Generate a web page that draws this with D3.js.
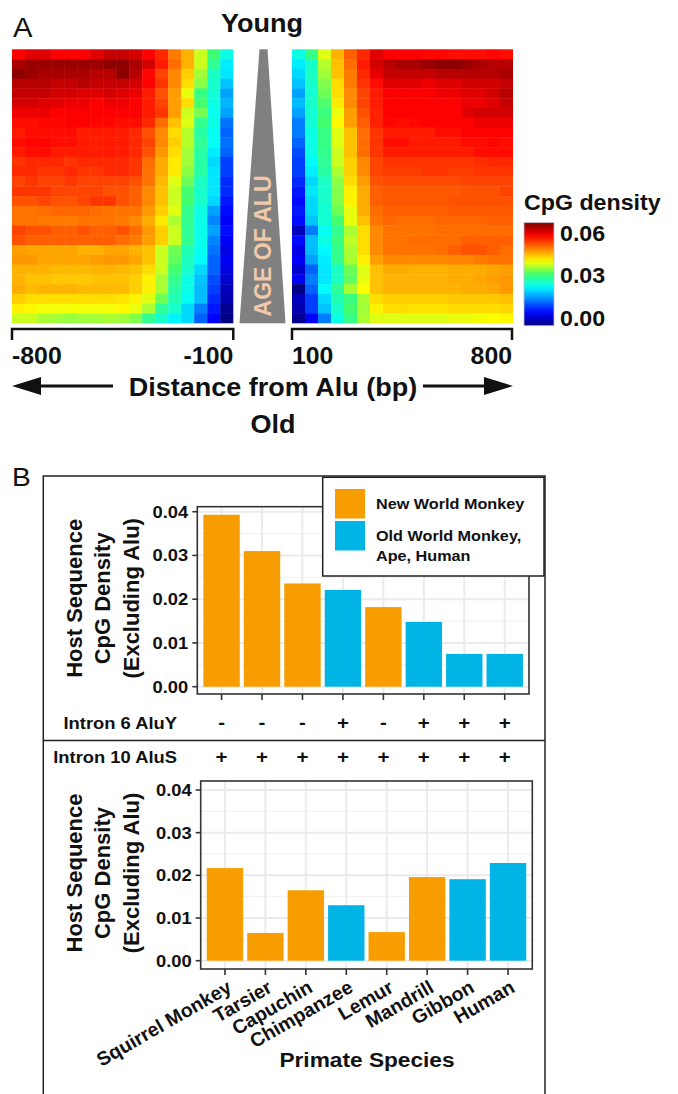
<!DOCTYPE html>
<html>
<head>
<meta charset="utf-8">
<script src="https://cdn.jsdelivr.net/npm/d3@7"></script>
<style>
  body { margin: 0; background: #fff; }
  svg { display: block; font-family: "Liberation Sans", Arial, Helvetica, sans-serif; }
</style>
</head>
<body>
<svg id="fig" width="678" height="1094"></svg>
<script>
// ---- Panel A: CpG density (x 1000), rows young (top) -> old (bottom) ----
// left block: columns from -800 bp to -100 bp
const leftDensity = [
  [58,60,60,58,58,58,60,62,62,61,58,55,49,45,37,30,23],
  [64,65,65,65,65,65,65,66,66,64,61,56,50,45,37,28,20],
  [66,65,64,64,64,64,63,63,66,63,57.5,53,48,43,35,25,19.5],
  [63,63,63,62,62,63,62,62,62,61,58,54,48,42,34,24.6,17],
  [62,62,62,61,61,60,60,61,60,59,56,52,46.5,38.5,29,24,14.6],
  [61,61,60,60,59,59,58,59,59,58,56,53,46.5,42,30.5,23,16],
  [59,59,59,58,58,58,58,58,58,58,56,54,46.5,37,33,22.5,14.6],
  [57,57,57.5,57.5,58,58,57.5,57.5,57,57,55,50,44,38,28.5,23,11.3],
  [56,57,57,57,57,56,56,56,56,55,52,48,42,36,27,22,10],
  [57,57.5,57.5,57,57,56,56,56,56,55,53,48,43,36,28,22,11],
  [56,57,57,56,56,56,56,56,56,55,52,47,42,35,27,20,10],
  [54,55,55,55,54,55,55,55,55,54,50,45.5,41,35,27,18.5,7.5],
  [55,55,54,54,55,54,54,55,55,54,49.5,45.5,41,34,27,19.5,7.5],
  [53,54,53,53,54,53,53,53,53,52,49.5,44.5,38,32.5,25,19.5,6],
  [54,54,54,53,53,53,53,52,52,51,48,44,37,30.5,24.5,19.5,6],
  [52,52,53,52,52,53,54,54,52,51,48,44,37,30.5,24.5,18.5,4.5],
  [49.5,49.5,50,50.5,50.5,50.5,50,49.5,49.5,49.5,47,43,38,28.5,23,14.6,3.7],
  [49.5,49.5,49,49,49,49.5,49.5,49.5,49,48,45.5,41,35.5,28.5,22.5,12.5,2.2],
  [53,52,52,51,51,52,51,51,52,50,47,43,37,28,22.5,14.5,3.7],
  [52,51,51,51,51,51,51,51,50,49,46.5,43,37,28.5,22.5,12.5,2.2],
  [46.5,46,46,46,46,45,45,46,46,45,44,37,32.5,26,22,11.3,1],
  [47,47,46,46,46,46,46.5,47,47,46,44,37,32,25.3,21,10,2.2],
  [45,45,45,44.5,44.5,44.5,45,45,44.5,44,42,37,30.5,24.6,18.5,10,1],
  [45,44,44,43.5,43.5,43.5,44,44,44,43,40.5,35.3,28.5,22.8,17,8.4,-0.5],
  [45.5,44.5,45,45,45,44.5,44.5,44.5,44.5,43,40.5,35.5,27,22.8,16.5,7.5,-2],
  [43,42,42,42,42,42,42,42,41.5,40.5,38,32.5,26,22,16.5,6,-2.7],
  [40.5,40,39,39,39,39,39,39,40,38.5,35.5,28,24.6,18.5,12,4.5,-4.9],
  [37,37,35.5,35,34.5,35,35,35.5,35,33.5,28.3,24.6,20.5,18.5,9.8,2.8,-6]
];
// right block: columns from 100 bp to 800 bp
const rightDensity = [
  [23,29,38,45,51,55,60,58,58,58,57.5,57.5,57,57,57,57.5,57],
  [20,24.6,36,44,50,56,61,63,64,64,65,66,66,65,64,63,63],
  [18.5,25,35,44,49,55,59.5,62,62,62,62,63,63,63,63,63,64],
  [17,24.6,33.5,42,49,54,57,60,60,60,59,60,60,61,61,61,62],
  [14.6,24,32.5,42,48,53,56,58,58,58,58,59,59,60,60,61,63],
  [16.5,24.6,31,41,48,53,56,58,58,58,58,58,58,59,59,60,62],
  [14.6,24,29.5,38.5,46.5,52,55.5,58,58,58,58,58,58,60,61,61,61],
  [12,24,30.5,40,46.5,51,55.5,57.5,57,57.5,58,58,58,58,59,59,59],
  [12,23,29,38,44,50,54,56,56,56,56,57,57,58,58,58,58],
  [10,23,29,38,44,50,54,57,57,56,56,56,56,57,57,57.5,57],
  [8.5,23,28.5,37,44,50,54,56,56,56,56,56,56,56,57,57,57],
  [7.5,21,28,37,43,48,53,54,54,54,54,54,54,54,54.5,55,55],
  [7.5,20,27,35.5,43,48,53,53.5,53.5,53.5,54,54,53.5,53.5,54,54,54],
  [6,18.5,25,34,42,46.5,52,52.5,52.5,52.5,52.5,52.5,52.5,53,53,53,53],
  [4.6,19.5,24.6,33.5,40.5,45.5,51,51.5,51.5,51.5,51.5,51.5,51.5,52,52,52,53],
  [3.7,18.5,24.6,33.5,40.5,45.5,51,51.5,51.5,51.5,51.5,51.5,52,52,52,52,52],
  [4.6,18.5,24,32.5,38.5,45.5,50,51,51,51,51,51,51.5,51.5,51.5,51.5,51.5],
  [3.7,17,24,30.5,38.5,44,49.5,50.5,50,50,50,50.5,50.5,50.5,50.5,51,51],
  [-2,12,22,28.5,35.5,42,48,49.5,49.5,49.5,49.5,50,50,50,50,50,50],
  [3.7,16.5,23,29.5,36.5,42,48,49.5,49.5,50,50,50,50,51,51,51,51],
  [1,16.5,21,28.5,35.5,42,48,49.5,49.5,49.5,49.5,50,51,52,52,51,50],
  [2.5,14.6,20,28.5,35.5,40.5,46.5,48,48,48,48,48,48.5,48.5,49,49.5,49.5],
  [-0.5,10,19.5,25,32.5,38,44,45.5,45.5,45,45,45,45.5,45.5,45.5,46,46.5],
  [2,12,19.5,25,32,38.5,44,45,45,45,45,45,45.5,45.5,46,46.5,47],
  [-6,10,21,28,35.5,39.5,44,45,45,45,45,45,45,45.5,45.5,46,47],
  [-2,7.5,18.5,26,29.5,35.5,42,43,43,43,43,43,43.5,43.5,43.5,43.5,44],
  [-2.7,7.5,17,24.6,30.5,35,40.5,42,42,41.5,41.5,41.5,42,42,42,42,42.5],
  [-5,2.8,12,23,29,35.5,38,38,38,38,38,38,38.5,38.5,39,39.5,40]
];
const leftTicks = [-800, -100];
const rightTicks = [100, 800];
const densityTicks = [0, 0.03, 0.06];

// ---- Panel B ----
const groupNames = ["New World Monkey", "Old World Monkey,|Ape, Human"];
const groupColours = ["#F89D00", "#00B4E6"];
const intron6Values = [0.0393, 0.0310, 0.0236, 0.0221, 0.0182, 0.0148, 0.0075, 0.0075];
const intron6Groups = [0, 0, 0, 1, 0, 1, 1, 1];
const intron6AluY = ["-", "-", "-", "+", "-", "+", "+", "+"];
const intron10AluS = ["+", "+", "+", "+", "+", "+", "+", "+"];
const species = ["Squirrel Monkey", "Tarsier", "Capuchin", "Chimpanzee", "Lemur", "Mandrill", "Gibbon", "Human"];
const intron10Values = [0.0217, 0.0065, 0.0165, 0.0130, 0.0067, 0.0196, 0.0191, 0.0229];
const intron10Groups = [0, 0, 0, 1, 0, 0, 1, 1];
const barTicks = [0, 0.01, 0.02, 0.03, 0.04];
const barMinor = [0.005, 0.015, 0.025, 0.035];

const svg = d3.select("#fig");
const INK = "#111";
const SX = 1.08; // the figure's lettering is a bit wider than Liberation Sans

function label(parent, x, y, str, o = {}) {
  const tr = `translate(${x},${y})` + (o.rotate != null ? ` rotate(${o.rotate})` : ` scale(${SX},1)`);
  return parent.append("text")
    .attr("transform", tr)
    .attr("text-anchor", o.anchor || "start")
    .attr("font-size", o.size || 16)
    .attr("font-weight", o.weight || "bold")
    .attr("fill", o.fill || INK)
    .text(str);
}

// Jet-like colour ramp over the colour-bar limits.
const jet = ["#00007F", "#0000FF", "#007FFF", "#00FFFF", "#40FF70", "#FFFF00", "#FF7F00", "#FF0000", "#7F0000"];
const cLo = -0.0062, cHi = 0.067;
const colour = d3.scaleLinear()
  .domain(jet.map((c, i) => cLo + (cHi - cLo) * i / (jet.length - 1)))
  .range(jet)
  .clamp(true);

// ---------------- Panel A ----------------
label(svg, 13, 37, "A", { size: 27, weight: "normal" });
label(svg, 262, 32, "Young", { size: 25, anchor: "middle" });

const rowY = d3.scaleBand().domain(d3.range(leftDensity.length)).range([49.3, 323.3]);

function heat(matrix, x0, x1) {
  const colX = d3.scaleBand().domain(d3.range(matrix[0].length)).range([x0, x1]);
  const g = svg.append("g");
  matrix.forEach((row, r) => {
    g.selectAll(null).data(row).join("rect")
      .attr("x", (d, c) => colX(c))
      .attr("y", rowY(r))
      .attr("width", (d, c) => colX.bandwidth() + (c < row.length - 1 ? 0.4 : 0))
      .attr("height", rowY.bandwidth() + (r < matrix.length - 1 ? 0.4 : 0))
      .attr("fill", d => colour(d / 1000));
  });
}
heat(leftDensity, 12, 233.3);
heat(rightDensity, 292, 513);

// Age wedge between the two blocks
svg.append("path")
  .attr("d", "M259.5,49.3 L267.5,49.3 L285.5,323.3 L239.5,323.3 Z")
  .attr("fill", "#808080");
label(svg, 271, 246, "AGE OF ALU", { size: 23, rotate: -90, anchor: "middle", fill: "#F0C9AA" });

// Distance brackets and labels
const leftDist = d3.scaleLinear().domain([-800, -100]).range([12, 233.3]);
const rightDist = d3.scaleLinear().domain([100, 800]).range([292, 512]);
function bracket(scale, ticks) {
  const [a, b] = scale.range();
  svg.append("path")
    .attr("d", `M${a},340 V329 H${b} V340`)
    .attr("fill", "none").attr("stroke", INK).attr("stroke-width", 2.5);
  ticks.forEach((t, i) => {
    label(svg, scale(t), 363.5, String(t), { size: 23, anchor: i === 0 ? "start" : "end" });
  });
}
bracket(leftDist, leftTicks);
bracket(rightDist, rightTicks);

// Arrows and axis title
const arrowY = 386;
svg.append("line").attr("x1", 38).attr("x2", 113).attr("y1", arrowY).attr("y2", arrowY)
  .attr("stroke", INK).attr("stroke-width", 3);
svg.append("path").attr("d", `M12,${arrowY} L41,${arrowY - 9} L41,${arrowY + 9} Z`).attr("fill", INK);
svg.append("line").attr("x1", 423).attr("x2", 488).attr("y1", arrowY).attr("y2", arrowY)
  .attr("stroke", INK).attr("stroke-width", 3);
svg.append("path").attr("d", `M513,${arrowY} L484,${arrowY - 9} L484,${arrowY + 9} Z`).attr("fill", INK);
label(svg, 273, 396, "Distance from Alu (bp)", { size: 25, anchor: "middle" });
label(svg, 273, 433, "Old", { size: 25, anchor: "middle" });

// Colour bar legend
label(svg, 524, 210, "CpG density", { size: 21.5 });
const barScale = d3.scaleLinear().domain([0, 0.06]).range([317, 232.5]);
const grad = svg.append("defs").append("linearGradient")
  .attr("id", "cbar").attr("x1", 0).attr("y1", 1).attr("x2", 0).attr("y2", 0);
grad.selectAll("stop").data(d3.range(0, 1.0001, 0.05)).join("stop")
  .attr("offset", d => d)
  .attr("stop-color", d => colour(cLo + d * (cHi - cLo)));
svg.append("rect")
  .attr("x", 524).attr("width", 30)
  .attr("y", barScale(cHi)).attr("height", barScale(cLo) - barScale(cHi))
  .attr("fill", "url(#cbar)").attr("stroke", "#c8bcc8").attr("stroke-width", 0.8);
densityTicks.forEach(t => {
  label(svg, 560, barScale(t) + 8.5, t.toFixed(2), { size: 21.5 });
});

// ---------------- Panel B ----------------
label(svg, 12, 486, "B", { size: 26, weight: "normal" });
svg.append("rect").attr("x", 43.3).attr("y", 476).attr("width", 501.7).attr("height", 640)
  .attr("fill", "none").attr("stroke", "#222").attr("stroke-width", 1.5);
svg.append("line").attr("x1", 43.3).attr("x2", 545).attr("y1", 740.5).attr("y2", 740.5)
  .attr("stroke", "#222").attr("stroke-width", 1.5);

function barPanel(values, groups, box) {
  const x = d3.scalePoint().domain(d3.range(values.length)).range([box.left, box.right]).padding(0.6);
  const y = d3.scaleLinear().domain([0, 0.04]).range([box.y0, box.y4]);
  const bw = x.step() * 0.9;
  const g = svg.append("g");
  g.selectAll(".minor").data(barMinor).join("line")
    .attr("x1", box.left).attr("x2", box.right)
    .attr("y1", d => y(d)).attr("y2", d => y(d))
    .attr("stroke", "#F0F0F0").attr("stroke-width", 1);
  g.selectAll(".major").data(barTicks).join("line")
    .attr("x1", box.left).attr("x2", box.right)
    .attr("y1", d => y(d)).attr("y2", d => y(d))
    .attr("stroke", "#EBEBEB").attr("stroke-width", 2);
  g.selectAll(".vmajor").data(x.domain()).join("line")
    .attr("x1", d => x(d)).attr("x2", d => x(d))
    .attr("y1", box.top).attr("y2", box.bottom)
    .attr("stroke", "#EBEBEB").attr("stroke-width", 2);
  g.selectAll(".bar").data(values).join("rect")
    .attr("x", (d, i) => x(i) - bw / 2)
    .attr("width", bw)
    .attr("y", d => y(d))
    .attr("height", d => y(0) - y(d))
    .attr("fill", (d, i) => groupColours[groups[i]]);
  g.append("rect")
    .attr("x", box.left).attr("y", box.top)
    .attr("width", box.right - box.left).attr("height", box.bottom - box.top)
    .attr("fill", "none").attr("stroke", "#333").attr("stroke-width", 1.6);
  // y axis
  barTicks.forEach(t => {
    g.append("line").attr("x1", box.left - 5).attr("x2", box.left)
      .attr("y1", y(t)).attr("y2", y(t)).attr("stroke", "#333").attr("stroke-width", 1.6);
    label(g, box.left - 9, y(t) + 6, t.toFixed(2), { size: 17, anchor: "end" });
  });
  // x ticks
  x.domain().forEach(i => {
    g.append("line").attr("x1", x(i)).attr("x2", x(i))
      .attr("y1", box.bottom).attr("y2", box.bottom + 6)
      .attr("stroke", "#333").attr("stroke-width", 1.6);
  });
  // y title
  const mid = (box.top + box.bottom) / 2 - 2;
  ["Host Sequence", "CpG Density", "(Excluding Alu)"].forEach((s, k) => {
    label(g, 81.5 + k * 28.7, mid, s, { size: 22, rotate: -90, anchor: "middle" });
  });
  return x;
}

const topX = barPanel(intron6Values, intron6Groups,
  { left: 197.3, right: 529, top: 506.7, bottom: 694, y0: 686.7, y4: 511.7 });
const botX = barPanel(intron10Values, intron10Groups,
  { left: 200.7, right: 532.3, top: 781, bottom: 969, y0: 960.7, y4: 790 });

// Alu presence rows
label(svg, 177, 729, "Intron 6 AluY", { size: 17, anchor: "end" });
intron6AluY.forEach((s, i) => label(svg, topX(i), 729, s, { size: 19, anchor: "middle" }));
label(svg, 177, 763, "Intron 10 AluS", { size: 17, anchor: "end" });
intron10AluS.forEach((s, i) => label(svg, topX(i), 763, s, { size: 19, anchor: "middle" }));

// Legend
svg.append("rect").attr("x", 322.7).attr("y", 477.3).attr("width", 221.3).attr("height", 98.7)
  .attr("fill", "#fff").attr("stroke", "#222").attr("stroke-width", 1.5);
groupColours.forEach((c, i) => {
  svg.append("rect").attr("x", 335).attr("y", 489 + i * 32).attr("width", 30).attr("height", 29.5)
    .attr("fill", c);
});
label(svg, 376, 509, groupNames[0].split("|")[0], { size: 15 });
groupNames[1].split("|").forEach((s, k) => label(svg, 376, 541 + k * 20, s, { size: 15 }));

// Species labels
species.forEach((s, i) => {
  svg.append("text")
    .attr("transform", `translate(${botX(i) + 1},${979}) rotate(-30)`)
    .attr("text-anchor", "end")
    .attr("dy", "0.72em")
    .attr("font-size", 19.5).attr("font-weight", "bold").attr("fill", INK)
    .text(s);
});
label(svg, 367, 1067, "Primate Species", { size: 21, anchor: "middle" });
</script>
</body>
</html>
